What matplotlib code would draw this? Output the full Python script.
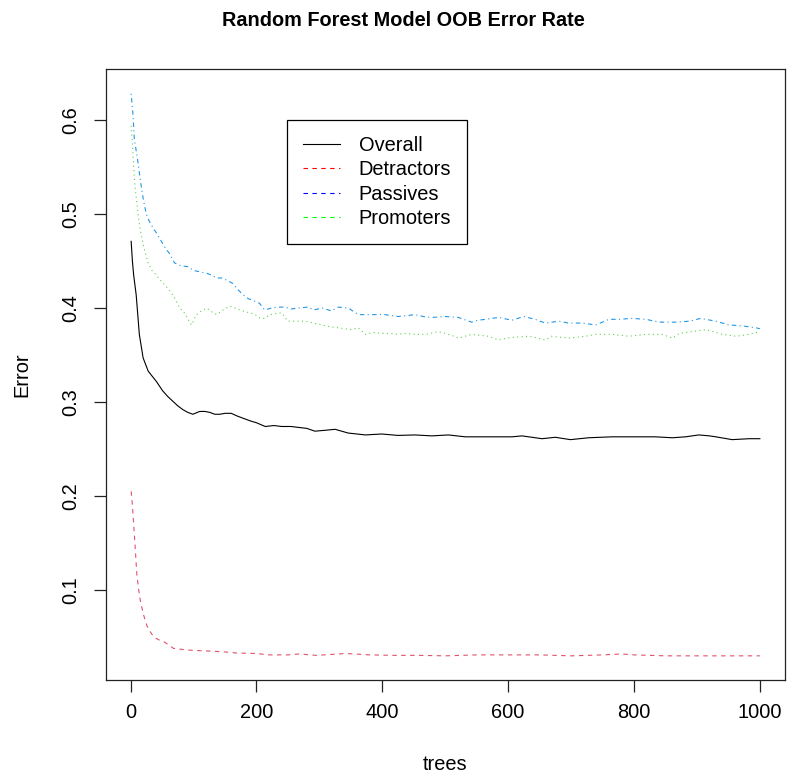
import matplotlib
matplotlib.use("Agg")
import matplotlib.pyplot as plt
from matplotlib.lines import Line2D

plt.rcParams["font.family"] = ["Liberation Sans", "DejaVu Sans"]

# OOB error rate by number of trees, per class and overall
overall_trees = [1, 3, 5, 9, 14, 20, 28, 35, 41, 51, 59, 67, 75, 83, 91, 99, 110, 118,
                 126, 134, 142, 150, 160, 170, 182, 190, 200, 214, 228, 240, 255, 267,
                 280, 293, 310, 325, 346, 360, 373, 399, 425, 452, 479, 505, 532, 558,
                 585, 606, 622, 654, 675, 699, 728, 765, 803, 834, 861, 882, 903, 920,
                 930, 956, 983, 1000]
overall_err = [0.471, 0.450, 0.435, 0.414, 0.372, 0.347, 0.333, 0.327, 0.322, 0.312,
               0.306, 0.301, 0.296, 0.292, 0.289, 0.287, 0.290, 0.290, 0.289, 0.287,
               0.287, 0.288, 0.288, 0.285, 0.282, 0.280, 0.278, 0.274, 0.275, 0.274,
               0.274, 0.273, 0.272, 0.269, 0.270, 0.271, 0.267, 0.266, 0.265, 0.266,
               0.2645, 0.265, 0.264, 0.265, 0.263, 0.263, 0.263, 0.263, 0.264, 0.261,
               0.2625, 0.260, 0.262, 0.263, 0.263, 0.263, 0.262, 0.263, 0.265, 0.264,
               0.263, 0.260, 0.261, 0.261]

detractor_trees = [1, 3, 5, 7, 10, 13, 16, 21, 26, 31, 37, 45, 53, 60, 68, 80, 95, 110,
                   130, 153, 168, 200, 221, 250, 268, 295, 342, 380, 420, 460, 500, 550,
                   600, 650, 700, 750, 780, 800, 850, 900, 950, 1000]
detractor_err = [0.205, 0.190, 0.170, 0.150, 0.117, 0.100, 0.087, 0.073, 0.062, 0.056,
                 0.050, 0.047, 0.045, 0.042, 0.038, 0.037, 0.036, 0.0355, 0.035, 0.034,
                 0.033, 0.0325, 0.031, 0.031, 0.032, 0.0305, 0.0325, 0.031, 0.0305,
                 0.0305, 0.030, 0.031, 0.031, 0.031, 0.030, 0.031, 0.032, 0.031, 0.030,
                 0.030, 0.030, 0.030]

# third class column: green, dotted
passive_trees = [1, 3, 5, 7, 9, 12, 14, 17, 20, 24, 28, 34, 41, 47, 54, 60, 67, 73, 78,
                 84, 88, 93, 97, 101, 105, 113, 121, 129, 137, 145, 152, 158, 166, 174,
                 182, 190, 198, 206, 213, 221, 230, 240, 250, 263, 277, 291, 304, 318,
                 330, 351, 362, 373, 386, 399, 412, 425, 438, 452, 470, 489, 500, 510,
                 521, 542, 555, 569, 585, 598, 611, 633, 647, 659, 669, 696, 723, 739,
                 765, 792, 819, 845, 861, 872, 893, 914, 925, 941, 962, 983, 1000]
passive_err = [0.594, 0.575, 0.550, 0.530, 0.518, 0.500, 0.490, 0.478, 0.468, 0.457,
               0.448, 0.440, 0.435, 0.430, 0.425, 0.420, 0.414, 0.407, 0.400, 0.396,
               0.393, 0.386, 0.382, 0.388, 0.393, 0.397, 0.400, 0.396, 0.393, 0.397,
               0.400, 0.402, 0.400, 0.398, 0.396, 0.395, 0.393, 0.389, 0.389, 0.393,
               0.394, 0.395, 0.386, 0.386, 0.386, 0.384, 0.382, 0.380, 0.379, 0.377,
               0.379, 0.372, 0.374, 0.373, 0.373, 0.372, 0.373, 0.372, 0.372, 0.375,
               0.373, 0.371, 0.368, 0.372, 0.371, 0.370, 0.366, 0.368, 0.369, 0.370,
               0.368, 0.366, 0.370, 0.368, 0.370, 0.372, 0.372, 0.370, 0.372, 0.372,
               0.368, 0.373, 0.375, 0.377, 0.375, 0.372, 0.370, 0.372, 0.375]

# fourth class column: blue, dot-dash
promoter_trees = [1, 4, 6, 11, 16, 20, 25, 30, 36, 41, 49, 56, 62, 70, 80, 91, 100, 107,
                  121, 129, 137, 145, 155, 163, 170, 179, 187, 195, 205, 213, 224, 235,
                  245, 255, 267, 282, 291, 305, 319, 330, 346, 362, 383, 404, 425, 440,
                  452, 465, 479, 500, 521, 542, 552, 564, 585, 606, 625, 643, 659, 681,
                  696, 718, 739, 750, 760, 776, 797, 819, 840, 866, 888, 906, 930, 951,
                  972, 994, 1000]
promoter_err = [0.628, 0.605, 0.580, 0.559, 0.534, 0.517, 0.500, 0.492, 0.485, 0.480,
                0.471, 0.463, 0.458, 0.448, 0.445, 0.444, 0.440, 0.439, 0.437, 0.435,
                0.432, 0.432, 0.429, 0.426, 0.420, 0.414, 0.410, 0.408, 0.405, 0.398,
                0.400, 0.401, 0.401, 0.399, 0.400, 0.401, 0.398, 0.400, 0.397, 0.401,
                0.400, 0.393, 0.393, 0.393, 0.391, 0.392, 0.393, 0.391, 0.390, 0.391,
                0.390, 0.385, 0.387, 0.388, 0.390, 0.387, 0.391, 0.388, 0.384, 0.386,
                0.384, 0.384, 0.382, 0.385, 0.388, 0.388, 0.389, 0.388, 0.385, 0.385,
                0.386, 0.389, 0.386, 0.382, 0.381, 0.379, 0.378]

legend_labels = ["Overall", "Detractors", "Passives", "Promoters"]
legend_colors = ["black", "red", "blue", "#00FF00"]

x_ticks = [0, 200, 400, 600, 800, 1000]
y_ticks = [0.1, 0.2, 0.3, 0.4, 0.5, 0.6]

W, H = 787, 776
fig = plt.figure(figsize=(W / 100, H / 100), dpi=100)
ax = fig.add_axes([106 / W, 1 - 680 / H, (785 - 106) / W, (680 - 69) / H])

lw = 0.8
ax.plot(overall_trees, overall_err, color="black", lw=lw, linestyle="-")
ax.plot(detractor_trees, detractor_err, color="#DF536B", lw=lw, linestyle=(0, (4, 4)))
ax.plot(passive_trees, passive_err, color="#61D04F", lw=lw, linestyle=(0, (1, 3)))
ax.plot(promoter_trees, promoter_err, color="#2297E6", lw=lw, linestyle=(0, (1, 3, 4, 3)))

ax.set_xlim(-38.96, 1039.96)
ax.set_ylim(0.0043, 0.6543)
ax.set_xticks(x_ticks)
ax.set_xticklabels([str(t) for t in x_ticks])
ax.set_yticks(y_ticks)
ax.set_yticklabels([f"{t:g}" for t in y_ticks], rotation=90, va="center")

for s in ax.spines.values():
    s.set_linewidth(0.9)
    s.set_color("#222222")
ax.tick_params(axis="both", length=8.6, width=0.9, color="#222222",
               labelsize=14.4, labelcolor="black")
ax.tick_params(axis="x", pad=8)
ax.tick_params(axis="y", pad=10)

fig.text(403.5 / W, 1 - 21 / H, "Random Forest Model OOB Error Rate",
         ha="center", va="center", fontsize=14.3, fontweight="bold")
fig.text(445 / W, 1 - 765 / H, "trees", ha="center", va="center", fontsize=14.4)
fig.text(22 / W, 1 - 375 / H, "Error", ha="center", va="center", fontsize=14.4,
         rotation=90)

handles = [Line2D([], [], color=legend_colors[0], lw=lw, linestyle="-")]
handles += [Line2D([], [], color=c, lw=lw, linestyle=(0, (4, 4))) for c in legend_colors[1:]]
leg = ax.legend(handles, legend_labels, loc="upper left",
                bbox_to_anchor=((287 - 106) / 679, 1 - (120 - 69) / 611),
                borderaxespad=0, fontsize=14.4, handlelength=1.85, handletextpad=0.95,
                labelspacing=0.28, borderpad=0.78, fancybox=False, framealpha=1,
                edgecolor="black")
leg.get_frame().set_linewidth(0.9)

fig.savefig("out.png", dpi=100)
